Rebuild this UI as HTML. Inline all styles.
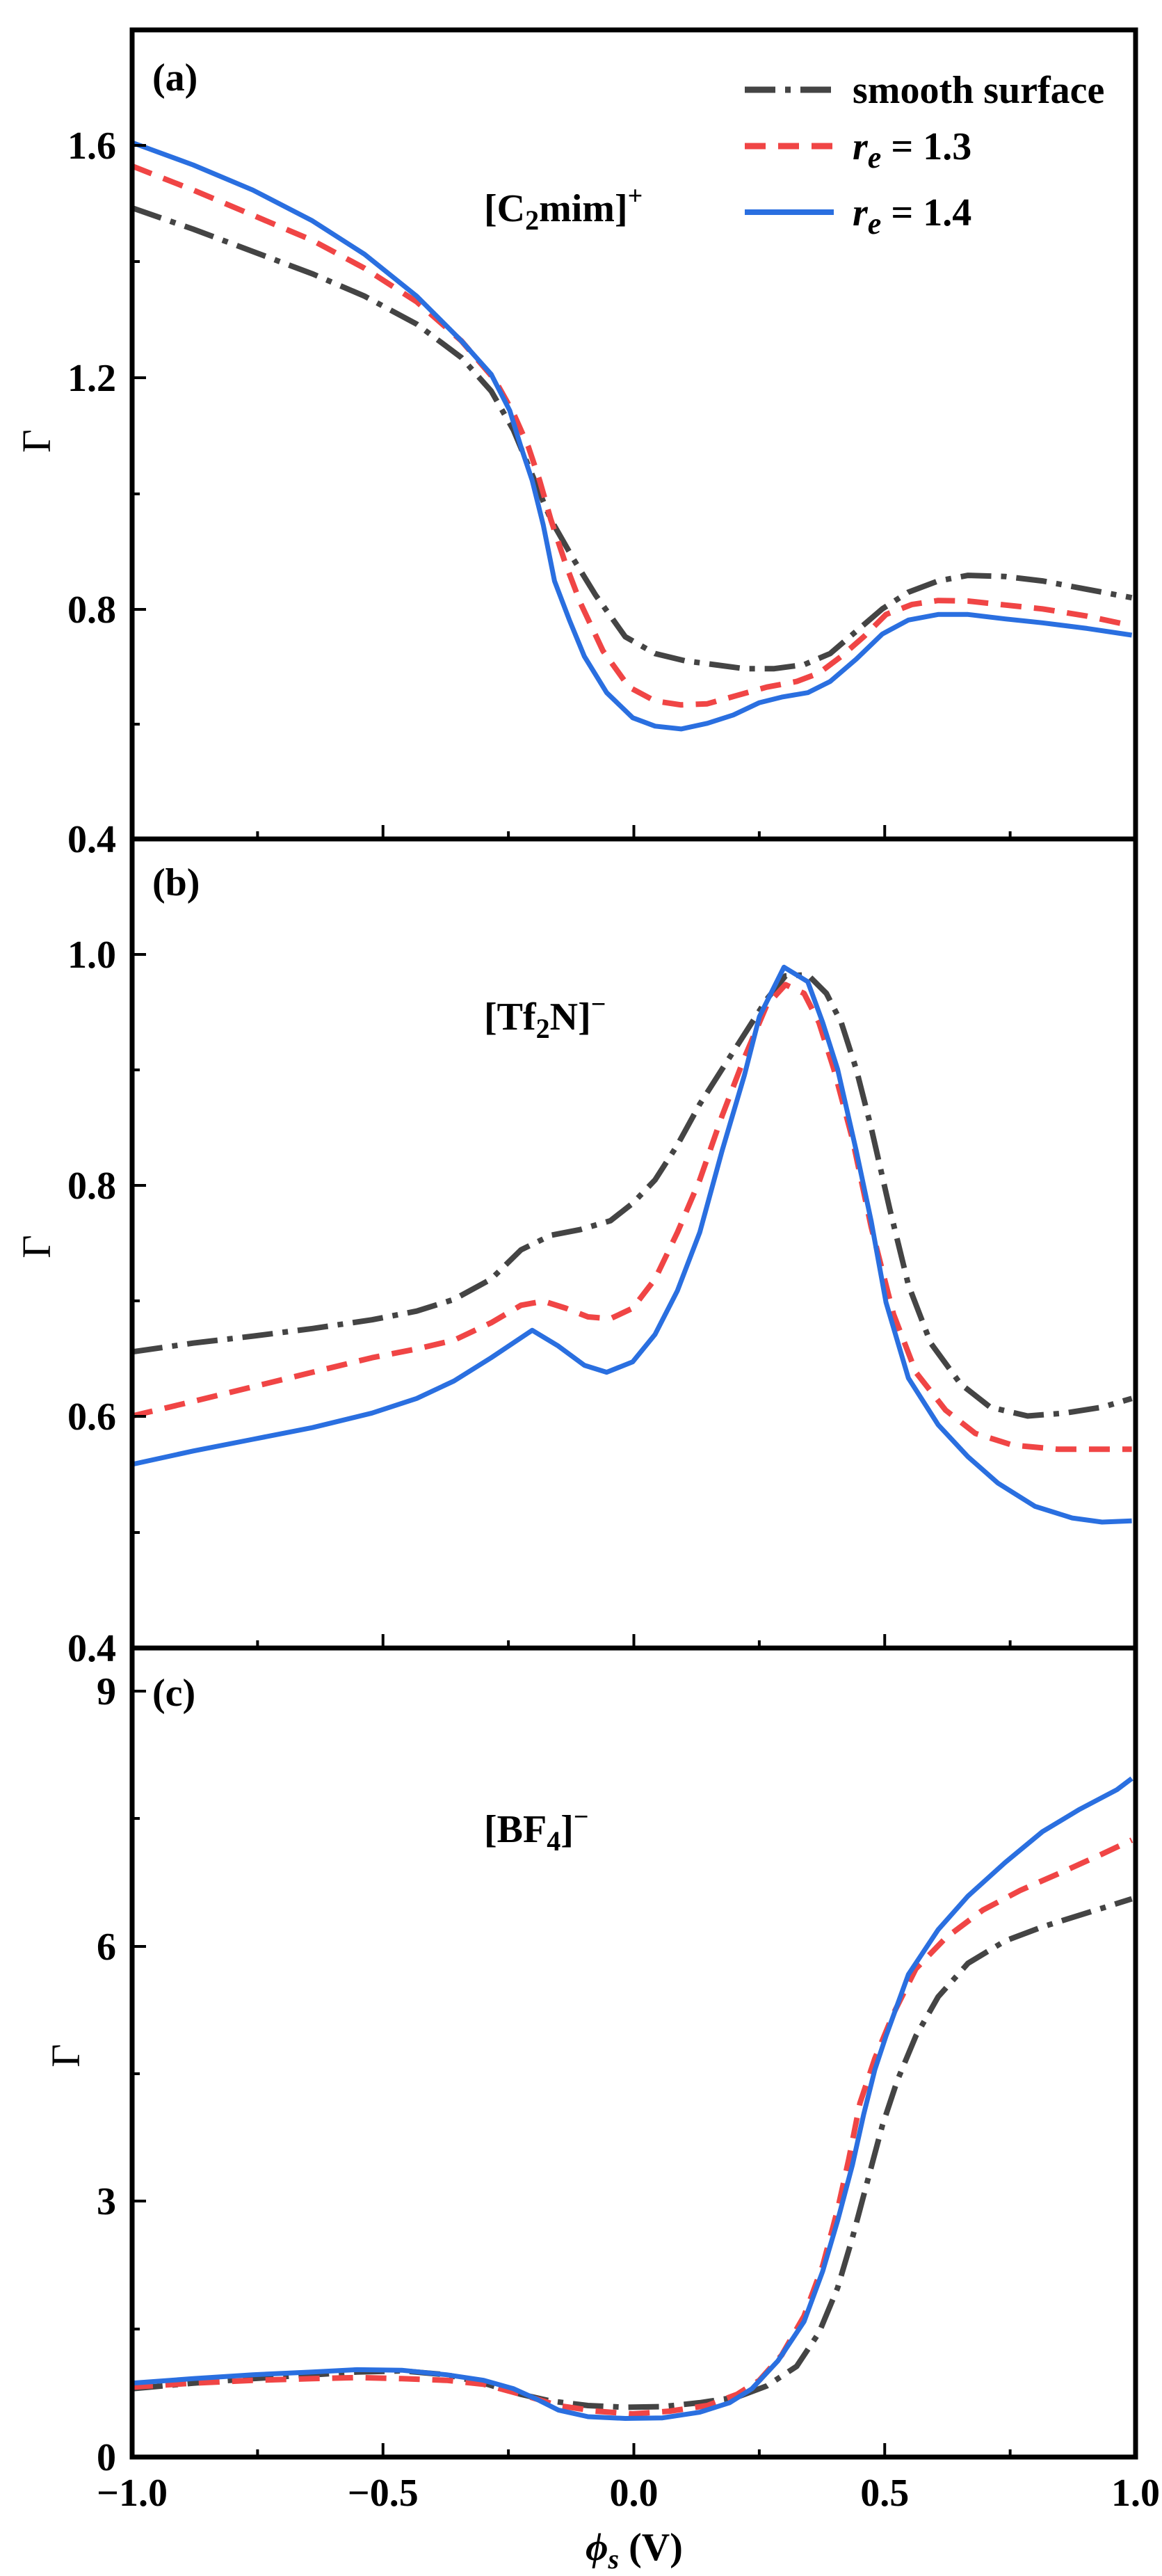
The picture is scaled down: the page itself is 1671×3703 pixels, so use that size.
<!DOCTYPE html>
<html><head><meta charset="utf-8">
<style>
html,body{margin:0;padding:0;background:#fff;}
svg{display:block;}
text{font-family:"Liberation Serif",serif;}
.t{font-weight:bold;font-size:56px;}
</style></head>
<body>
<svg id="s" width="1671" height="3703" viewBox="0 0 1671 3703" xmlns="http://www.w3.org/2000/svg">
<rect width="1671" height="3703" fill="#fff"/>
<g id="curves"></g>
<g id="axes" stroke="#000" fill="none"></g>
<g id="labels" class="t" fill="#000"></g>

<!-- legend -->
<line x1="1071" y1="129" x2="1199" y2="129" stroke="#444" stroke-width="9" stroke-dasharray="44,14,8,14"/>
<line x1="1071" y1="210" x2="1199" y2="210" stroke="#f04545" stroke-width="9" stroke-dasharray="30,18"/>
<line x1="1071" y1="305" x2="1199" y2="305" stroke="#2a6fe0" stroke-width="8"/>
<text x="1226" y="148" class="t" font-size="58">smooth surface</text>
<text x="1226" y="229" class="t" font-size="58"><tspan font-style="italic">r</tspan><tspan font-style="italic" font-size="44" dy="12">e</tspan><tspan dy="-12"> = 1.3</tspan></text>
<text x="1226" y="324" class="t" font-size="58"><tspan font-style="italic">r</tspan><tspan font-style="italic" font-size="44" dy="12">e</tspan><tspan dy="-12"> = 1.4</tspan></text>

<text x="219" y="130" class="t" font-size="58">(a)</text>
<text x="219" y="1287" class="t" font-size="58">(b)</text>
<text x="219" y="2452" class="t" font-size="58">(c)</text>

<text x="696" y="318" class="t" font-size="58">[C<tspan font-size="40" dy="12">2</tspan><tspan dy="-12">mim]</tspan><tspan font-size="38" dy="-24">+</tspan></text>
<text x="696" y="1480" class="t" font-size="58">[Tf<tspan font-size="40" dy="12">2</tspan><tspan dy="-12">N]</tspan><tspan font-size="38" dy="-24">−</tspan></text>
<text x="696" y="2648" class="t" font-size="58">[BF<tspan font-size="40" dy="12">4</tspan><tspan dy="-12">]</tspan><tspan font-size="38" dy="-24">−</tspan></text>

<text transform="translate(72,634) rotate(-90)" text-anchor="middle" font-size="58">Γ</text>
<text transform="translate(72,1792) rotate(-90)" text-anchor="middle" font-size="58">Γ</text>
<text transform="translate(114,2955) rotate(-90)" text-anchor="middle" font-size="58">Γ</text>

<text x="912" y="3680" text-anchor="middle" class="t" font-size="60"><tspan font-style="italic">ϕ</tspan><tspan font-style="italic" font-size="40" dy="12">s</tspan><tspan dy="-12"> (V)</tspan></text>
</svg>
<script>
(function(){
var NS="http://www.w3.org/2000/svg";
function el(p,n,a){var e=document.createElementNS(NS,n);for(var k in a)e.setAttribute(k,a[k]);p.appendChild(e);return e;}
var C=document.getElementById('curves'),A=document.getElementById('axes'),L=document.getElementById('labels');
var L0=190,R0=1633;
function mx(z){return 190+(z-178)*1443/1347;}
var maps={
 a:function(z){return 209+(z-260)*997/1242;},
 b:function(z){return 1151.5+z*0.8379;},
 c:function(z){return 2460+z*0.8048;}
};
var styles={
 k:{stroke:"#444","stroke-width":8,"stroke-dasharray":"44,14,8,14"},
 r:{stroke:"#f04545","stroke-width":8,"stroke-dasharray":"30,18"},
 b:{stroke:"#2a6fe0","stroke-width":7}
};
var D={
a:{
k:[[178,372],[260,410],[340,450],[420,490],[490,530],[560,580],[620,640],[660,700],[690,770],[715,850],[740,930],[770,1000],[800,1065],[840,1140],[880,1170],[920,1183],[960,1190],[1000,1197],[1040,1197],[1080,1190],[1115,1170],[1150,1130],[1185,1090],[1220,1060],[1260,1040],[1300,1030],[1350,1032],[1400,1040],[1460,1055],[1520,1070]],
r:[[178,297],[260,340],[340,385],[420,430],[490,480],[560,540],[620,610],[665,680],[690,740],[710,800],[725,860],[740,930],[760,1010],[780,1080],[810,1165],[845,1230],[880,1255],[915,1262],[950,1260],[990,1245],[1030,1230],[1070,1220],[1100,1205],[1130,1175],[1160,1140],[1190,1100],[1225,1082],[1260,1075],[1300,1076],[1350,1083],[1400,1090],[1460,1103],[1520,1120]],
b:[[178,255],[260,295],[340,340],[420,395],[490,455],[560,530],[620,610],[660,670],[685,735],[700,800],[715,860],[730,940],[745,1040],[765,1110],[785,1175],[815,1240],[850,1285],[880,1300],[915,1305],[950,1295],[985,1280],[1020,1258],[1050,1248],[1085,1240],[1115,1220],[1150,1180],[1185,1135],[1220,1110],[1260,1100],[1300,1100],[1350,1108],[1400,1115],[1460,1125],[1520,1137]]
},
b:{
k:[[178,945],[260,930],[340,918],[420,905],[500,890],[560,875],[610,855],[660,820],[700,770],[740,745],[780,735],[820,720],[850,690],[880,650],[910,590],[940,520],[970,460],[1000,400],[1030,340],[1055,300],[1085,298],[1110,330],[1130,380],[1150,460],[1170,560],[1195,700],[1220,830],[1250,930],[1290,1000],[1330,1040],[1380,1055],[1430,1050],[1480,1040],[1520,1025]],
r:[[178,1055],[260,1030],[340,1005],[420,980],[500,955],[560,940],[610,925],[660,895],[700,865],[730,858],[760,870],[790,885],[820,888],[850,870],[880,820],[910,740],[940,650],[970,540],[1000,440],[1030,350],[1055,315],[1080,330],[1100,380],[1120,460],[1145,580],[1170,730],[1200,880],[1230,980],[1270,1045],[1310,1085],[1360,1105],[1420,1112],[1520,1112]],
b:[[178,1138],[260,1115],[340,1095],[420,1075],[500,1050],[560,1025],[610,995],[660,955],[715,908],[750,935],[785,968],[815,980],[850,962],[880,915],[910,840],[940,740],[970,600],[1000,470],[1020,370],[1053,285],[1085,310],[1105,380],[1125,460],[1150,600],[1170,720],[1190,860],[1220,990],[1260,1070],[1300,1125],[1340,1170],[1390,1210],[1440,1230],[1480,1237],[1520,1235]]
},
c:{
k:[[178,1210],[260,1200],[340,1192],[420,1185],[480,1180],[540,1178],[600,1185],[650,1200],[700,1220],[740,1232],[790,1240],[840,1243],[890,1242],[940,1235],[990,1225],[1030,1205],[1070,1170],[1100,1110],[1125,1030],[1145,940],[1165,840],[1185,740],[1205,660],[1230,580],[1260,510],[1300,450],[1350,410],[1400,385],[1460,360],[1520,335]],
r:[[178,1207],[260,1200],[340,1195],[420,1192],[480,1190],[540,1192],[600,1195],[650,1202],[700,1220],[750,1240],[800,1250],[850,1255],[900,1250],[950,1240],[990,1220],[1020,1195],[1050,1150],[1080,1080],[1105,990],[1125,890],[1140,800],[1155,700],[1175,620],[1200,540],[1230,460],[1270,405],[1320,355],[1370,320],[1430,285],[1480,255],[1520,230]],
b:[[178,1200],[260,1192],[340,1185],[420,1180],[480,1176],[540,1177],[600,1185],[650,1195],[690,1210],[720,1228],[750,1248],[790,1260],[840,1263],[890,1262],[940,1252],[980,1235],[1010,1210],[1045,1160],[1080,1090],[1105,1000],[1125,910],[1145,810],[1160,720],[1175,640],[1190,580],[1220,470],[1260,390],[1300,330],[1350,270],[1400,215],[1450,175],[1500,140],[1520,120]]
}};
["a","b","c"].forEach(function(p){
 ["k","r","b"].forEach(function(s){
  var pts=D[p][s].map(function(q){return mx(q[0]).toFixed(1)+","+maps[p](q[1]).toFixed(1);});
  var a={points:pts.join(" "),fill:"none","stroke-linejoin":"round"};
  for(var k in styles[s])a[k]=styles[s][k];
  el(C,"polyline",a);
 });
});
var P=[
 {t:43,b:1206,y:[[209,"1.6",1],[376,null,0],[543,"1.2",1],[710,null,0],[876,"0.8",1],[1041,null,0],[1206,"0.4",1]]},
 {t:1206,b:2369,y:[[1372,"1.0",1],[1538,null,0],[1704,"0.8",1],[1870,null,0],[2036,"0.6",1],[2203,null,0],[2369,"0.4",1]]},
 {t:2369,b:3532,y:[[2431,"9",1],[2614,null,0],[2798,"6",1],[2981,null,0],[3164,"3",1],[3348,null,0],[3532,"0",1]]}
];
P.forEach(function(p){
 el(A,"rect",{x:L0,y:p.t,width:R0-L0,height:p.b-p.t,"stroke-width":7});
 p.y.forEach(function(t){
  el(A,"line",{x1:L0,y1:t[0],x2:L0+(t[2]?20:11),y2:t[0],"stroke-width":4});
  if(t[1]){var e=el(L,"text",{x:167,y:t[0]+19,"text-anchor":"end"});e.textContent=t[1];}
 });
 for(var i=0;i<9;i++){var x=L0+i*(R0-L0)/8;if(i==0||i==8)continue;
  el(A,"line",{x1:x,y1:p.b,x2:x,y2:p.b-(i%2==0?20:11),"stroke-width":4});}
});
var xl=["−1.0","−0.5","0.0","0.5","1.0"];
for(var i=0;i<5;i++){var e=el(L,"text",{x:L0+i*(R0-L0)/4,y:3602,"text-anchor":"middle"});e.textContent=xl[i];}
})();
</script>
</body></html>
